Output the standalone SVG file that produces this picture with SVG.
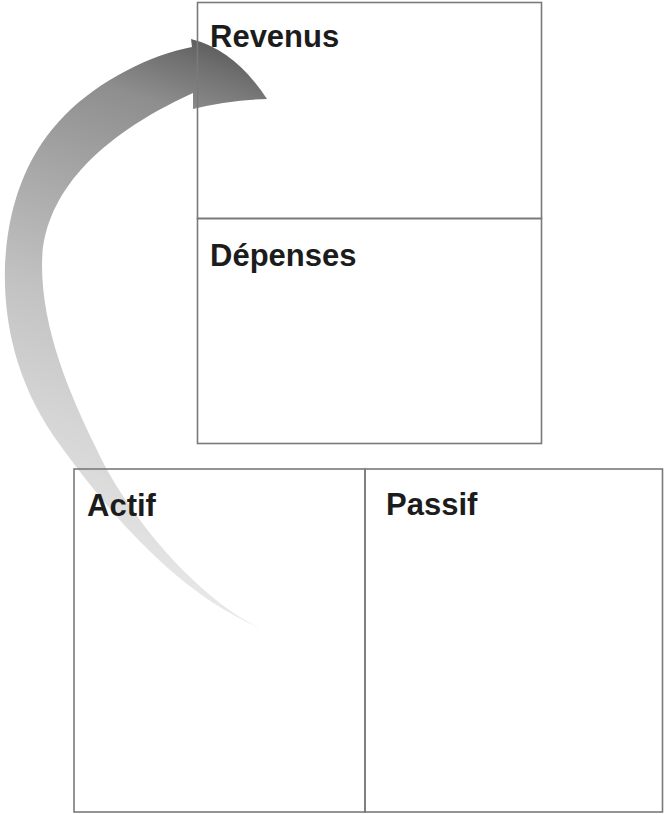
<svg xmlns="http://www.w3.org/2000/svg" width="664" height="814" viewBox="0 0 664 814">
<style>
.box{fill:none;stroke:#7a7a7a;stroke-width:1.6}
.lbl{font-family:"Liberation Sans",Arial,Helvetica,sans-serif;font-weight:bold;font-size:31px;fill:#1c1c1c}
</style>
<defs>
<linearGradient id="arrowGrad" gradientUnits="userSpaceOnUse" x1="60" y1="640" x2="260" y2="60">
<stop offset="0.1" stop-color="#ebebeb"/>
<stop offset="0.21" stop-color="#e0e0e0"/>
<stop offset="0.36" stop-color="#d3d3d3"/>
<stop offset="0.53" stop-color="#c2c2c2"/>
<stop offset="0.69" stop-color="#ababab"/>
<stop offset="0.88" stop-color="#8e8e8e"/>
<stop offset="0.96" stop-color="#707070"/>
<stop offset="1" stop-color="#5e5e5e"/>
</linearGradient>
</defs>
<rect width="664" height="814" fill="#ffffff"/>
<g id="connectors">
<path id="arrow-actif-revenus" fill="url(#arrowGrad)" d="M192,47 C150,55 100,80 65,115 C30,150 8,200 5,265 C3,330 20,390 60,445 C100,500 170,590 260,628 C200,600 130,520 97,450 C70,395 42,330 42,265 C42,200 90,140 193,93 L193,109 Q230,100 267,99 Q235,50 191,39 Z"/>
</g>
<g id="node-revenus">
<rect class="box" x="197.5" y="2.5" width="344" height="216"/>
<text class="lbl" x="210" y="47">Revenus</text>
</g>
<g id="node-depenses">
<rect class="box" x="197.5" y="218.5" width="344" height="225"/>
<text class="lbl" x="210" y="266">Dépenses</text>
</g>
<g id="node-actif">
<rect class="box" x="74" y="469" width="291" height="343"/>
<text class="lbl" x="87" y="516">Actif</text>
</g>
<g id="node-passif">
<rect class="box" x="365" y="469" width="297.5" height="343"/>
<text class="lbl" x="386" y="515">Passif</text>
</g>
</svg>
